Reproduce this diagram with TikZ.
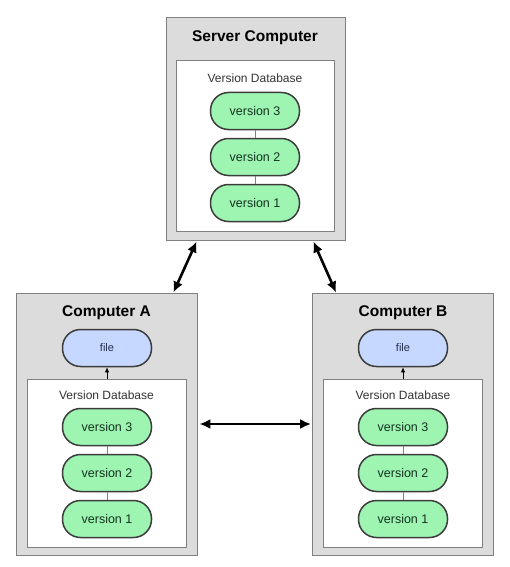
\documentclass[tikz,border=0pt]{standalone}
\usepackage{fontspec}
\setmainfont{Liberation Sans}
\usetikzlibrary{arrows.meta}

\definecolor{boxgray}{RGB}{220,220,220}
\definecolor{edgegray}{RGB}{128,128,128}
\definecolor{versiongreen}{RGB}{158,245,178}
\definecolor{versiontext}{RGB}{20,50,30}
\definecolor{fileblue}{RGB}{198,216,255}
\definecolor{filetext}{RGB}{35,45,75}
\definecolor{pilledge}{RGB}{60,60,60}

\begin{document}
\begin{tikzpicture} [x=1pt,y=-1pt,>={Latex[length=11pt,width=10pt]},
    computer node/.style={rectangle,fill=boxgray,draw=edgegray,line width=0.8pt,
      inner sep=0pt,minimum width=181pt,minimum height=262pt},
    database node/.style={rectangle,fill=white,draw=edgegray,line width=0.8pt,
      inner sep=0pt,minimum width=159pt,minimum height=168pt},
    title node/.style={font=\bfseries\fontsize{15.5}{18}\selectfont},
    label node/.style={font=\fontsize{12}{14}\selectfont,text=black!80},
    version node/.style={rectangle,rounded corners=18pt,fill=versiongreen,draw=pilledge,
      line width=1.5pt,minimum width=89pt,minimum height=37pt,
      font=\fontsize{12.5}{14}\selectfont,text=versiontext},
    file node/.style={rectangle,rounded corners=18pt,fill=fileblue,draw=pilledge,
      line width=1.5pt,minimum width=89pt,minimum height=37pt,
      font=\fontsize{11}{13}\selectfont,text=filetext},
    link/.style={draw=edgegray,line width=1pt},
    checkout/.style={->,>={Latex[length=5pt,width=4.5pt]},line width=0.9pt},
    sync/.style={<->,line width=2.6pt}]

  \useasboundingbox (0,0) rectangle (509,567);

  % the server
  \node [computer node,minimum width=179pt,minimum height=223pt] (server) at (255.5,128.5) {};
  \node [database node,minimum width=158pt,minimum height=171pt] (server_db) at (255,145.5) {};
  \node [title node] (server_title) at (255,38) {Server Computer};
  \node [label node] (server_label) at (255,78) {Version Database};
  \node [version node] (server_v3) at (255,111) {version 3};
  \node [version node] (server_v2) at (255,157) {version 2};
  \node [version node] (server_v1) at (255,203) {version 1};

  % computer A
  \node [computer node] (comp_a) at (106.5,424) {};
  \node [database node] (comp_a_db) at (106.5,463) {};
  \node [title node] (comp_a_title) at (106.5,313) {Computer A};
  \node [file node] (comp_a_file) at (107,348) {file};
  \node [label node] (comp_a_label) at (106.5,395) {Version Database};
  \node [version node] (comp_a_v3) at (107,427) {version 3};
  \node [version node] (comp_a_v2) at (107,473) {version 2};
  \node [version node] (comp_a_v1) at (107,519) {version 1};

  % computer B
  \node [computer node] (comp_b) at (403,424) {};
  \node [database node] (comp_b_db) at (402.5,463) {};
  \node [title node] (comp_b_title) at (403,313) {Computer B};
  \node [file node] (comp_b_file) at (403,348) {file};
  \node [label node] (comp_b_label) at (403,395) {Version Database};
  \node [version node] (comp_b_v3) at (403,427) {version 3};
  \node [version node] (comp_b_v2) at (403,473) {version 2};
  \node [version node] (comp_b_v1) at (403,519) {version 1};

  % links between the versions
  \draw[link] (server_v3) -- (server_v2);
  \draw[link] (server_v2) -- (server_v1);
  \draw[link] (comp_a_v3) -- (comp_a_v2);
  \draw[link] (comp_a_v2) -- (comp_a_v1);
  \draw[link] (comp_b_v3) -- (comp_b_v2);
  \draw[link] (comp_b_v2) -- (comp_b_v1);

  % checkouts
  \draw[checkout] (comp_a_db.north -| comp_a_file) -- (comp_a_file);
  \draw[checkout] (comp_b_db.north -| comp_b_file) -- (comp_b_file);

  % connections between the computers
  \draw[sync] ([xshift=-24pt]comp_a.north east) -- ([xshift=31pt,yshift=-1pt]server.south west);
  \draw[sync] ([xshift=-32pt,yshift=-1pt]server.south east) -- ([xshift=24pt]comp_b.north west);
  \draw[sync,shorten <=2pt,shorten >=1pt] (comp_a.east) -- (comp_b.west);

\end{tikzpicture}
\end{document}
